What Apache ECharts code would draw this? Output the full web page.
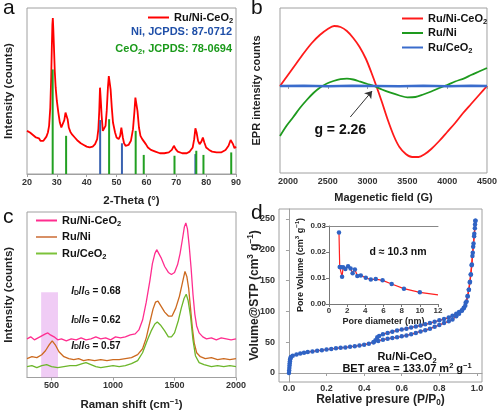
<!DOCTYPE html>
<html><head><meta charset="utf-8">
<script src="https://cdn.jsdelivr.net/npm/echarts@6/dist/echarts.min.js"></script>
<style>html,body{margin:0;padding:0;background:#fff}#c{width:500px;height:413px}</style>
</head><body><div id="c"></div>
<script>
const FONT = '"Liberation Sans", Arial, Helvetica, sans-serif';

// ---------- Panel a: XRD ----------
const xrdCurve = [[20,26],[20.5,27],[21,25],[21.5,25.5],[22,23.5],[22.5,23],[23,22],[23.5,21],[24,21.5],[24.5,20],[25,19.5],[25.5,20],[26,21],[26.5,22.5],[27,25],[27.4,29],[27.8,40],[28.1,58],[28.3,75],[28.5,90],[28.65,94],[28.8,88],[29,78],[29.3,62],[29.6,52],[30,44],[30.5,37],[31,31],[31.5,28],[32,29],[32.5,32.5],[32.9,37],[33.2,36],[33.6,33],[34,28],[34.5,25.5],[35,24],[36,22],[37,20],[38,18.5],[39,17.5],[40,16.5],[41,16],[42,16.5],[42.8,18],[43.5,21],[43.9,27],[44.2,38],[44.45,52],[44.7,45],[45,35],[45.4,26],[45.8,25],[46.3,29],[46.7,38],[47.1,52],[47.4,59],[47.7,58],[48,51],[48.4,40],[48.8,31],[49.5,25],[50,22],[50.7,21],[51.2,23],[51.6,28],[51.8,28.5],[52.1,22],[52.5,18.5],[53,17],[54,17.5],[54.8,20],[55.5,27],[56,38],[56.3,46],[56.6,45],[57,38],[57.5,28],[58,23],[58.6,21],[59.2,22],[59.8,18],[60.5,16],[61.5,14.5],[63,13.5],[64.5,12.5],[66,12.5],[67.5,13],[68.5,14.5],[69.2,17],[69.8,15],[70.5,13.5],[72,12.5],[73.5,12.5],[74.5,13.5],[75.5,16],[76,21],[76.4,27.5],[76.8,25],[77.3,20],[77.8,18],[78.4,19.5],[78.9,22],[79.4,19],[80,16],[81,14.5],[82,13.5],[83.5,13],[85,13],[86.5,14.5],[87.5,17],[88.2,20.5],[88.6,20],[89,18],[89.5,15.5],[90,16.5]];
const ceo2Ref = [[28.6,63],[33.1,23],[47.5,33],[56.4,26],[59.1,11.5],[69.4,11],[76.7,14],[79.1,11.5],[88.4,13]];
const niRef = [[44.5,32.5],[51.8,18.5],[76.4,12]];

// ---------- Panel b: EPR ----------
const eprRuNiCeO2 = [[1900,0],[2000,11],[2100,22],[2200,33],[2300,43],[2400,51],[2500,57],[2580,60],[2660,59],[2740,55],[2820,48],[2900,39],[2980,27],[3050,13],[3110,0],[3180,-16],[3250,-33],[3330,-50],[3400,-61],[3480,-68],[3560,-71],[3640,-71],[3720,-68],[3800,-63],[3900,-55],[4000,-46],[4100,-37],[4200,-27],[4300,-18],[4400,-9],[4500,0]];
const eprRuNi = [[1900,-50],[1980,-40],[2067,-31],[2150,-22],[2236,-14],[2320,-7],[2404,-1.5],[2490,2.5],[2572,5],[2660,6.8],[2741,7.3],[2820,6.5],[2909,4.3],[3000,2],[3080,0],[3180,-3.5],[3288,-6.7],[3400,-9.5],[3500,-11.3],[3600,-11],[3700,-8.5],[3800,-5.5],[3900,-2],[4000,1],[4100,4.5],[4214,7.7],[4300,11],[4400,14.5],[4500,18]];
const eprRuCeO2 = [[1900,0],[2200,0.3],[2500,-0.3],[2800,0.2],[3100,0],[3400,-0.2],[3700,0.3],[4000,-0.2],[4300,0.2],[4500,0]];
const eprTicks = [2000,2500,3000,3500,4000,4500];

// ---------- Panel c: Raman ----------
const ramanRuNiCeO2 = [[300,39],[330,41],[360,38],[390,40],[420,42],[450,44],[470,45],[490,43],[520,41],[550,38],[580,39],[620,37],[660,39],[700,38],[740,40],[780,38],[820,39],[860,41],[900,39],[940,40],[980,38],[1020,41],[1060,40],[1100,41],[1140,43],[1180,44],[1210,48],[1240,58],[1270,76],[1300,98],[1320,115],[1340,125],[1355,129],[1370,127],[1390,121],[1420,112],[1450,106],[1475,104],[1500,106],[1525,114],[1545,125],[1565,140],[1580,152],[1592,156],[1605,150],[1620,132],[1635,110],[1650,84],[1665,64],[1680,52],[1700,45],[1730,41],[1760,39],[1800,40],[1840,38],[1880,40],[1920,39],[1960,38],[2000,39]];
const ramanRuNi = [[300,19],[340,21],[380,20],[420,23],[450,27],[480,33],[505,37],[530,33],[560,26],[600,21],[640,19],[680,18],[720,19],[760,17],[800,18],[850,17],[900,18],[950,17],[1000,18],[1050,18],[1100,19],[1150,20],[1200,23],[1240,29],[1270,40],[1300,56],[1325,69],[1345,76],[1365,77],[1390,72],[1420,66],[1450,62],[1480,62],[1510,70],[1540,82],[1565,96],[1585,107],[1600,102],[1615,90],[1630,70],[1645,50],[1660,35],[1680,25],[1710,21],[1750,19],[1800,20],[1850,18],[1900,19],[1950,18],[2000,19]];
const ramanRuCeO2 = [[300,11],[340,12],[380,10],[420,12],[460,13],[500,11],[550,10],[600,11],[650,12],[700,12],[750,14],[780,15],[820,13],[860,11],[900,10],[950,11],[1000,12],[1050,11],[1100,12],[1150,14],[1200,17],[1240,25],[1280,38],[1310,47],[1340,54],[1360,56],[1385,53],[1420,47],[1450,41],[1475,41],[1500,45],[1530,57],[1555,70],[1578,80],[1595,84],[1610,78],[1630,62],[1650,38],[1670,22],[1700,15],[1740,13],[1800,11],[1850,12],[1900,11],[1950,12],[2000,11]];
const ramanTicks = [500,1000,1500,2000];
const ratioLabels = ['0.68','0.62','0.57'];

// ---------- Panel d: N2 isotherm ----------
const isoAds = [[0.0,0],[0.001,4],[0.002,8],[0.003,12],[0.004,16],[0.005,19],[0.006,22],[0.008,24],[0.01,26],[0.02,28],[0.04,30],[0.06,31.5],[0.08,33],[0.1,34],[0.125,35],[0.15,36],[0.175,37],[0.2,38],[0.225,39],[0.25,40],[0.275,41],[0.3,41.5],[0.325,42.5],[0.35,43.5],[0.375,44.5],[0.4,46],[0.425,47.5],[0.45,50],[0.475,52],[0.5,54],[0.525,55.5],[0.55,57],[0.575,58],[0.6,59.5],[0.625,61],[0.65,63],[0.675,65],[0.7,67.5],[0.725,69.5],[0.75,72],[0.775,75],[0.8,78],[0.825,81],[0.85,84],[0.87,87],[0.89,92],[0.905,96],[0.92,101],[0.93,106],[0.94,114],[0.95,125],[0.957,135],[0.963,148],[0.968,160],[0.973,176],[0.978,195],[0.982,210],[0.986,226],[0.99,241],[0.992,247]];
const isoDes = [[0.992,247],[0.989,235],[0.985,222],[0.98,205],[0.976,190],[0.972,175],[0.967,160],[0.962,147],[0.957,135],[0.951,124],[0.945,116],[0.938,109],[0.93,105],[0.92,102],[0.905,99],[0.89,96],[0.87,93],[0.85,90],[0.825,87.5],[0.8,85.5],[0.775,83],[0.75,81],[0.725,79],[0.7,77],[0.675,75.5],[0.65,74],[0.625,72],[0.6,70.5],[0.575,69],[0.55,67],[0.525,65],[0.5,63],[0.48,60],[0.47,58],[0.46,53],[0.45,50]];
const isoTicks = [0,50,100,150,200,250];
const poreDist = [[1.1,0.0275],[1.18,0.0142],[1.32,0.0141],[1.44,0.0105],[1.55,0.0141],[1.8,0.0135],[2.1,0.0145],[2.38,0.0137],[2.6,0.0118],[2.85,0.0133],[3.12,0.0108],[3.5,0.011],[4.05,0.0101],[4.6,0.0094],[5.15,0.0096],[5.9,0.0091],[6.9,0.0077],[8.25,0.0059],[10.0,0.0045],[12.0,0.0035]];

// ---------- styles ----------
const FRAME = '#a0a0a0';
const LBL = {fontFamily: FONT, fontWeight: 'bold', color: '#333', fontSize: 9};
function richSet(fs, col) {
  const c = col || '#111';
  return {
    s: {fontSize: fs * 0.68, fontWeight: 'bold', fontFamily: FONT, verticalAlign: 'bottom', color: c},
    u: {fontSize: fs * 0.68, fontWeight: 'bold', fontFamily: FONT, verticalAlign: 'top', color: c},
    i: {fontSize: fs, fontWeight: 'bold', fontStyle: 'italic', fontFamily: FONT, color: c}
  };
}
function nameStyle(fs) {
  return {fontFamily: FONT, fontWeight: 'bold', fontSize: fs, color: '#222', lineHeight: fs + 3, rich: richSet(fs, '#222')};
}
function legendName(n) { return n.split(':')[1].replace('O2', 'O{s|2}'); }
function letter(t, l, tp) {
  return {text: t, left: l, top: tp, padding: 0, textStyle: {fontFamily: FONT, fontWeight: 'normal', fontSize: 21, color: '#111'}};
}
function hiddenY(grid, min, max) {
  return {type: 'value', gridIndex: grid, min: min, max: max, axisLine: {show: false}, axisTick: {show: false}, axisLabel: {show: false}, splitLine: {show: false}};
}
const plainNum = v => String(v);
const LEG = {fontFamily: FONT, fontWeight: 'bold', fontSize: 11, color: '#111', lineHeight: 13, rich: richSet(11)};

const option = {
  animation: false,
  backgroundColor: '#fff',
  title: [
    letter('a', 3, -2), letter('b', 251, -2), letter('c', 3, 207), letter('d', 251, 203),
    {text: 'Ni, JCPDS: 87-0712', right: 268, top: 26, padding: 0, textStyle: {fontFamily: FONT, fontWeight: 'bold', fontSize: 11, color: '#1f4fa8'}},
    {text: 'CeO{s|2}, JCPDS: 78-0694', right: 268, top: 42, padding: 0, textStyle: {fontFamily: FONT, fontWeight: 'bold', fontSize: 11, color: '#1a9a1a', lineHeight: 13, rich: richSet(11, '#1a9a1a')}}
  ],
  legend: [
    {data: ['a:Ru/Ni-CeO2'], left: 143, top: 6, icon: 'rect', itemWidth: 21, itemHeight: 2, formatter: legendName, textStyle: LEG},
    {data: ['b:Ru/Ni-CeO2', 'b:Ru/Ni', 'b:Ru/CeO2'], orient: 'vertical', left: 397, top: 7, icon: 'rect', itemWidth: 21, itemHeight: 2, itemGap: 1.5, formatter: legendName, textStyle: LEG},
    {data: ['c:Ru/Ni-CeO2', 'c:Ru/Ni', 'c:Ru/CeO2'], orient: 'vertical', left: 31, top: 209, icon: 'rect', itemWidth: 21, itemHeight: 2, itemGap: 3.5, formatter: legendName, textStyle: LEG}
  ],
  grid: [
    {left: 27, top: 8, width: 209, height: 166, show: true, borderColor: FRAME, borderWidth: 1},
    {left: 280, top: 8, width: 207, height: 165, show: true, borderColor: FRAME, borderWidth: 1},
    {left: 27, top: 212, width: 209, height: 167, show: true, borderColor: FRAME, borderWidth: 1},
    {left: 279, top: 209, width: 203, height: 173, show: true, borderColor: FRAME, borderWidth: 1},
    {left: 329, top: 226, width: 109, height: 78}
  ],
  xAxis: [
    {type: 'value', gridIndex: 0, min: 20, max: 90, interval: 10, name: '2-Theta (°)', nameLocation: 'middle', nameGap: 20, nameTextStyle: nameStyle(11.5),
     axisLine: {lineStyle: {color: FRAME}}, axisTick: {length: 3, lineStyle: {color: FRAME}}, axisLabel: Object.assign({margin: 4, formatter: plainNum}, LBL), splitLine: {show: false}},
    {type: 'value', gridIndex: 1, min: 1900, max: 4500, name: 'Magenetic field (G)', nameLocation: 'middle', nameGap: 18, nameTextStyle: nameStyle(11),
     axisLine: {lineStyle: {color: FRAME}}, axisTick: {length: 3, lineStyle: {color: FRAME}, customValues: eprTicks}, axisLabel: Object.assign({margin: 4, customValues: eprTicks, formatter: plainNum}, LBL), splitLine: {show: false}},
    {type: 'value', gridIndex: 2, min: 300, max: 2000, name: 'Raman shift (cm{u|−1})', nameLocation: 'middle', nameGap: 20, nameTextStyle: nameStyle(11.5),
     axisLine: {lineStyle: {color: FRAME}}, axisTick: {length: 3, lineStyle: {color: FRAME}, customValues: ramanTicks}, axisLabel: Object.assign({margin: 4, customValues: ramanTicks, formatter: plainNum}, LBL), splitLine: {show: false}},
    {type: 'value', gridIndex: 3, min: -0.053, max: 1.027, name: 'Relative presure (P/P{s|0})', nameLocation: 'middle', nameGap: 10, nameMoveOverlap: false, nameTextStyle: nameStyle(12),
     axisLine: {lineStyle: {color: FRAME}}, axisTick: {length: 3, lineStyle: {color: FRAME}, customValues: [0,0.2,0.4,0.6,0.8,1.0]},
     axisLabel: Object.assign({margin: 2, customValues: [0,0.2,0.4,0.6,0.8,1.0], formatter: v => v.toFixed(1)}, LBL), splitLine: {show: false}},
    {type: 'value', gridIndex: 4, min: 0, max: 12, interval: 2, name: 'Pore diameter (nm)', nameLocation: 'middle', nameGap: 12, nameTextStyle: nameStyle(9),
     axisLine: {lineStyle: {color: '#777'}}, axisTick: {length: 3, lineStyle: {color: '#777'}}, axisLabel: Object.assign({margin: 3}, LBL, {fontSize: 8}), splitLine: {show: false}},
    {type: 'value', gridIndex: 4, position: 'top', min: 0, max: 12, axisLine: {show: true, onZero: false, lineStyle: {color: '#888'}}, axisTick: {show: false}, axisLabel: {show: false}, splitLine: {show: false}}
  ],
  yAxis: [
    Object.assign(hiddenY(0, 0, 100), {name: 'Intensity (counts)', nameLocation: 'middle', nameGap: 11, nameTextStyle: nameStyle(11.5)}),
    Object.assign(hiddenY(1, -87, 78), {name: 'EPR intensity counts', nameLocation: 'middle', nameGap: 16, nameTextStyle: nameStyle(11)}),
    Object.assign(hiddenY(2, 0, 167), {name: 'Intensity (counts)', nameLocation: 'middle', nameGap: 11, nameTextStyle: nameStyle(11.5)}),
    {type: 'value', gridIndex: 3, min: -14.6, max: 266.2, name: 'Volume@STP (cm{u|3} g{u|−1})', nameLocation: 'middle', nameGap: 17, nameMoveOverlap: false, nameTextStyle: nameStyle(12),
     axisLine: {show: true, lineStyle: {color: FRAME}}, axisTick: {show: true, length: 3, lineStyle: {color: FRAME}, customValues: isoTicks},
     axisLabel: Object.assign({margin: 4, customValues: isoTicks}, LBL), splitLine: {show: false}},
    {type: 'value', gridIndex: 4, min: 0, max: 0.03, interval: 0.01, name: 'Pore Volume (cm{u|3} g{u|−1})', nameLocation: 'middle', nameGap: 20, nameTextStyle: nameStyle(9),
     axisLine: {show: true, lineStyle: {color: '#777'}}, axisTick: {show: true, length: 3, lineStyle: {color: '#777'}},
     axisLabel: Object.assign({margin: 3, formatter: v => v.toFixed(2)}, LBL, {fontSize: 8}), splitLine: {show: false}}
  ],
  series: [
    {name: 'a:Ru/Ni-CeO2', type: 'line', xAxisIndex: 0, yAxisIndex: 0, data: xrdCurve, symbol: 'none', lineStyle: {color: '#ff0000', width: 1.8}, itemStyle: {color: '#ff0000'}, z: 2},
    {name: 'a:Ni', type: 'bar', xAxisIndex: 0, yAxisIndex: 0, data: niRef, barWidth: 2, itemStyle: {color: '#3a62b0'}, z: 3},
    {name: 'a:CeO2', type: 'bar', xAxisIndex: 0, yAxisIndex: 0, data: ceo2Ref, barWidth: 2, barGap: '-100%', itemStyle: {color: '#22a022'}, z: 3},

    {name: 'b:Ru/Ni-CeO2', type: 'line', xAxisIndex: 1, yAxisIndex: 1, data: eprRuNiCeO2, symbol: 'none', smooth: 0.3, lineStyle: {color: '#ff1a1a', width: 1.8}, itemStyle: {color: '#ff1a1a'}},
    {name: 'b:Ru/Ni', type: 'line', xAxisIndex: 1, yAxisIndex: 1, data: eprRuNi, symbol: 'none', smooth: 0.3, lineStyle: {color: '#1e9a1e', width: 1.8}, itemStyle: {color: '#1e9a1e'},
     markLine: {silent: true, symbol: ['none', 'arrow'], symbolSize: 7, label: {show: false}, lineStyle: {color: '#333', width: 1, type: 'solid'},
       data: [[{coord: [2783, -31]}, {coord: [3057, -5]}]]},
     markPoint: {silent: true, symbol: 'circle', symbolSize: 0, itemStyle: {color: 'transparent'},
       label: {show: true, position: 'inside', formatter: 'g = 2.26', fontFamily: FONT, fontWeight: 'bold', fontSize: 14, color: '#111'},
       data: [{coord: [2657, -44]}]}},
    {name: 'b:Ru/CeO2', type: 'line', xAxisIndex: 1, yAxisIndex: 1, data: eprRuCeO2, symbol: 'none', lineStyle: {color: '#3a6ccc', width: 2.5}, itemStyle: {color: '#3a6ccc'}},

    {name: 'c:Ru/Ni-CeO2', type: 'line', xAxisIndex: 2, yAxisIndex: 2, data: ramanRuNiCeO2, symbol: 'none', lineStyle: {color: '#ff2d8f', width: 1.3}, itemStyle: {color: '#ff2d8f'},
     markArea: {silent: true, itemStyle: {color: 'rgba(215,120,230,0.38)'}, data: [[{coord: [415, 86]}, {coord: [552, 0]}]]},
     markPoint: {silent: true, symbol: 'circle', symbolSize: 0, itemStyle: {color: 'transparent'},
       label: {show: true, position: 'inside', fontFamily: FONT, fontWeight: 'bold', fontSize: 10, color: '#111',
         formatter: p => '{i|I}{s|D}/{i|I}{s|G} = ' + p.name, rich: richSet(10)},
       data: [{name: ratioLabels[0], coord: [860, 87]}, {name: ratioLabels[1], coord: [860, 58]}, {name: ratioLabels[2], coord: [860, 32]}]}},
    {name: 'c:Ru/Ni', type: 'line', xAxisIndex: 2, yAxisIndex: 2, data: ramanRuNi, symbol: 'none', lineStyle: {color: '#cc6a1f', width: 1.3}, itemStyle: {color: '#d89066'}},
    {name: 'c:Ru/CeO2', type: 'line', xAxisIndex: 2, yAxisIndex: 2, data: ramanRuCeO2, symbol: 'none', lineStyle: {color: '#6cb62a', width: 1.3}, itemStyle: {color: '#7cc23a'}},

    {name: 'd:ads', type: 'line', xAxisIndex: 3, yAxisIndex: 3, data: isoAds, symbol: 'circle', symbolSize: 4.5, lineStyle: {color: '#ff2020', width: 1.3}, itemStyle: {color: '#2f63c4'},
     markPoint: {silent: true, symbol: 'circle', symbolSize: 0, itemStyle: {color: 'transparent'},
       label: {show: true, position: 'inside', fontFamily: FONT, fontWeight: 'bold', fontSize: 11, color: '#111', lineHeight: 14, rich: richSet(11), formatter: p => p.name},
       data: [{name: 'Ru/Ni-CeO{s|2}', coord: [0.628, 26]}, {name: 'BET area = 133.07 m{u|2} g{u|−1}', coord: [0.628, 6.5]}]}},
    {name: 'd:des', type: 'line', xAxisIndex: 3, yAxisIndex: 3, data: isoDes, symbol: 'circle', symbolSize: 4.5, lineStyle: {color: '#ff2020', width: 1.3}, itemStyle: {color: '#2f63c4'}},
    {name: 'd:pore', type: 'line', xAxisIndex: 4, yAxisIndex: 4, data: poreDist.map((p, k) => k === poreDist.length - 1 ? {value: p, symbol: 'none'} : p),
     symbol: 'circle', symbolSize: 4.5, lineStyle: {color: '#ff2020', width: 1.2}, itemStyle: {color: '#2f63c4'},
     markPoint: {silent: true, symbol: 'circle', symbolSize: 0, itemStyle: {color: 'transparent'},
       label: {show: true, position: 'inside', fontFamily: FONT, fontWeight: 'bold', fontSize: 10.5, color: '#111', formatter: 'd ≈ 10.3 nm'},
       data: [{coord: [7.6, 0.02]}]}}
  ]
};
const chart = echarts.init(document.getElementById('c'), null, {renderer: 'canvas'});
chart.setOption(option);
</script>
</body></html>
